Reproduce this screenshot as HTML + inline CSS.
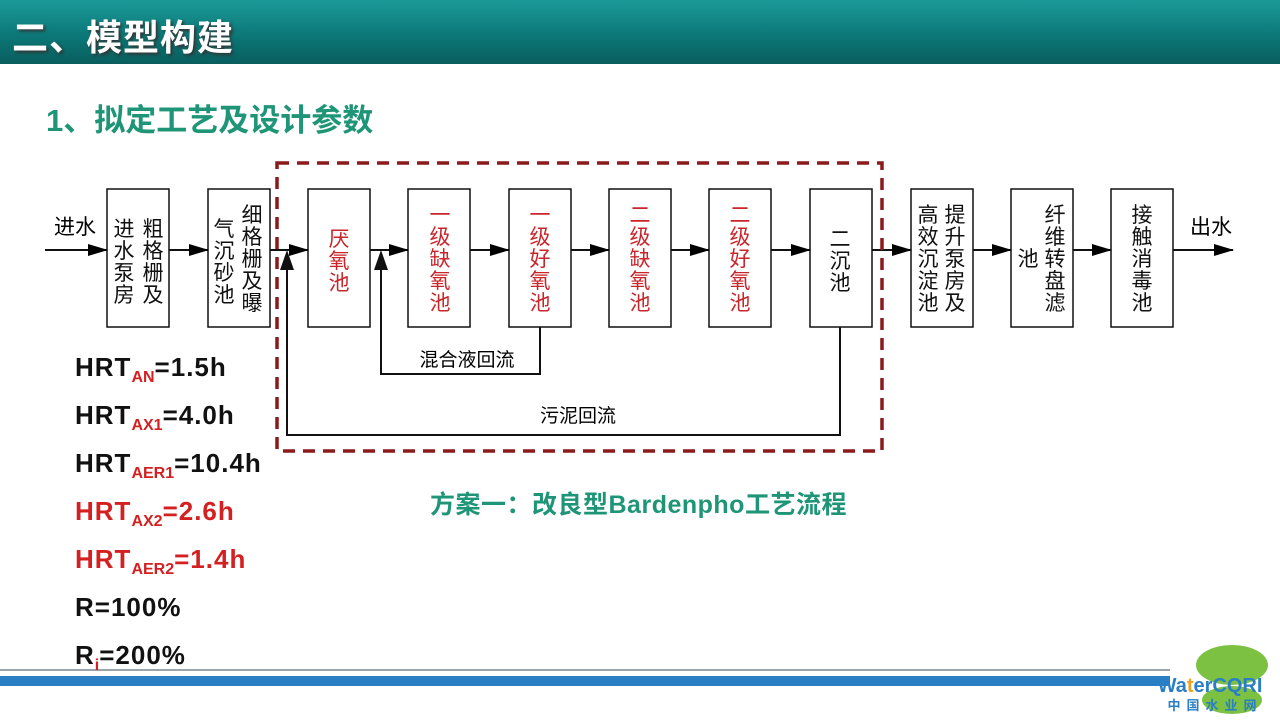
<!DOCTYPE html>
<html><head><meta charset="utf-8"><style>
body{margin:0;width:1280px;height:720px;overflow:hidden;background:#fff;font-family:"Liberation Sans","Noto Sans CJK SC",sans-serif;position:relative}
.hdr{position:absolute;left:0;top:0;width:1280px;height:64px;background:linear-gradient(180deg,#1a9a98 0%,#0b7575 60%,#0a5e5e 100%)}
.hdr span{position:absolute;left:12px;top:9px;font-size:36px;font-weight:bold;color:#fff;text-shadow:2px 2px 3px #333;letter-spacing:1px}
.sub{position:absolute;left:46px;top:95px;font-size:31px;font-weight:bold;color:#1f9577}
.p{position:absolute;left:75px;font-size:26px;font-weight:bold;color:#111;line-height:30px;letter-spacing:1px}
.p sub{font-size:16px;color:#d42020;vertical-align:-6px;letter-spacing:0}
.r{color:#d42020}
.cap{position:absolute;left:430px;top:485px;font-size:25px;font-weight:bold;color:#1f9577;letter-spacing:0.5px}
</style></head><body>
<div class="hdr"><span>二、模型构建</span></div>
<div class="sub">1、拟定工艺及设计参数</div>
<svg width="1280" height="720" style="position:absolute;left:0;top:0" font-family="Liberation Sans,Noto Sans CJK SC,sans-serif" font-size="21" text-anchor="middle">
<defs><marker id="b" markerWidth="20" markerHeight="12" refX="19" refY="6" orient="auto" markerUnits="userSpaceOnUse"><path d="M0,0 L20,6 L0,12z"/></marker></defs>
<g fill="#fff" stroke="#111" stroke-width="1.5">
<rect x="107" y="189" width="62" height="138"/><rect x="208" y="189" width="62" height="138"/>
<rect x="308" y="189" width="62" height="138"/><rect x="408" y="189" width="62" height="138"/>
<rect x="509" y="189" width="62" height="138"/><rect x="609" y="189" width="62" height="138"/>
<rect x="709" y="189" width="62" height="138"/><rect x="810" y="189" width="62" height="138"/>
<rect x="911" y="189" width="62" height="138"/><rect x="1011" y="189" width="62" height="138"/>
<rect x="1111" y="189" width="62" height="138"/></g>
<g stroke="#111" stroke-width="2" fill="none" marker-end="url(#b)">
<line x1="45" y1="250" x2="107" y2="250"/><line x1="169" y1="250" x2="208" y2="250"/>
<line x1="270" y1="250" x2="308" y2="250"/><line x1="370" y1="250" x2="408" y2="250"/>
<line x1="470" y1="250" x2="509" y2="250"/><line x1="571" y1="250" x2="609" y2="250"/>
<line x1="671" y1="250" x2="709" y2="250"/><line x1="771" y1="250" x2="810" y2="250"/>
<line x1="872" y1="250" x2="911" y2="250"/><line x1="973" y1="250" x2="1011" y2="250"/>
<line x1="1073" y1="250" x2="1111" y2="250"/><line x1="1173" y1="250" x2="1233" y2="250"/>
</g>
<g stroke="#111" stroke-width="2" fill="none">
<polyline points="540,327 540,374 381,374 381,268"/>
<polyline points="840,327 840,435 287,435 287,268"/>
</g>
<path d="M381,250 L374,270 L388,270z M287,250 L280,270 L294,270z" fill="#111"/>
<rect x="277" y="163" width="605" height="288" fill="none" stroke="#8b1a1a" stroke-width="3.5" stroke-dasharray="12,8"/>
<text x="75" y="234" font-size="21">进水</text><text x="1211" y="234" font-size="21">出水</text>
<text x="467" y="366" font-size="19">混合液回流</text><text x="578" y="422" font-size="19">污泥回流</text>
<g fill="#111">
<text x="124" y="236">进</text><text x="124" y="258">水</text><text x="124" y="280">泵</text><text x="124" y="302">房</text>
<text x="153" y="236">粗</text><text x="153" y="258">格</text><text x="153" y="280">栅</text><text x="153" y="302">及</text>
<text x="224" y="236">气</text><text x="224" y="258">沉</text><text x="224" y="280">砂</text><text x="224" y="302">池</text>
<text x="252" y="222">细</text><text x="252" y="244">格</text><text x="252" y="266">栅</text><text x="252" y="288">及</text><text x="252" y="310">曝</text>
<text x="840" y="246">二</text><text x="840" y="268">沉</text><text x="840" y="290">池</text>
<text x="928" y="222">高</text><text x="928" y="244">效</text><text x="928" y="266">沉</text><text x="928" y="288">淀</text><text x="928" y="310">池</text>
<text x="955" y="222">提</text><text x="955" y="244">升</text><text x="955" y="266">泵</text><text x="955" y="288">房</text><text x="955" y="310">及</text>
<text x="1028" y="266">池</text>
<text x="1055" y="222">纤</text><text x="1055" y="244">维</text><text x="1055" y="266">转</text><text x="1055" y="288">盘</text><text x="1055" y="310">滤</text>
<text x="1142" y="222">接</text><text x="1142" y="244">触</text><text x="1142" y="266">消</text><text x="1142" y="288">毒</text><text x="1142" y="310">池</text>
</g>
<g fill="#c8262b">
<text x="339" y="246">厌</text><text x="339" y="268">氧</text><text x="339" y="290">池</text>
<text x="440" y="222">一</text><text x="440" y="244">级</text><text x="440" y="266">缺</text><text x="440" y="288">氧</text><text x="440" y="310">池</text>
<text x="540" y="222">一</text><text x="540" y="244">级</text><text x="540" y="266">好</text><text x="540" y="288">氧</text><text x="540" y="310">池</text>
<text x="640" y="222">二</text><text x="640" y="244">级</text><text x="640" y="266">缺</text><text x="640" y="288">氧</text><text x="640" y="310">池</text>
<text x="740" y="222">二</text><text x="740" y="244">级</text><text x="740" y="266">好</text><text x="740" y="288">氧</text><text x="740" y="310">池</text>
</g>
<line x1="0" y1="670" x2="1170" y2="670" stroke="#9aa4ad" stroke-width="2"/>
<rect x="0" y="676" width="1170" height="10" fill="#2a7fc4"/>
<ellipse cx="1232" cy="665" rx="36" ry="20" fill="#7cc142"/>
<ellipse cx="1232" cy="700" rx="30" ry="14" fill="#7cc142"/>
<text x="1210" y="692" font-size="20" font-weight="bold" fill="#2a7fc4">Wa<tspan fill="#f0a020">t</tspan>erCQRI</text>
<text x="1215" y="710" font-size="13" font-weight="bold" fill="#2a7fc4" letter-spacing="6">中国水业网</text>
</svg>
<div class="p" style="top:352px">HRT<sub>AN</sub>=1.5h</div>
<div class="p" style="top:400px">HRT<sub>AX1</sub>=4.0h</div>
<div class="p" style="top:448px">HRT<sub>AER1</sub>=10.4h</div>
<div class="p r" style="top:496px">HRT<sub>AX2</sub>=2.6h</div>
<div class="p r" style="top:544px">HRT<sub>AER2</sub>=1.4h</div>
<div class="p" style="top:592px">R=100%</div>
<div class="p" style="top:640px">R<sub>i</sub>=200%</div>
<div class="cap">方案一：改良型Bardenpho工艺流程</div>
</body></html>
